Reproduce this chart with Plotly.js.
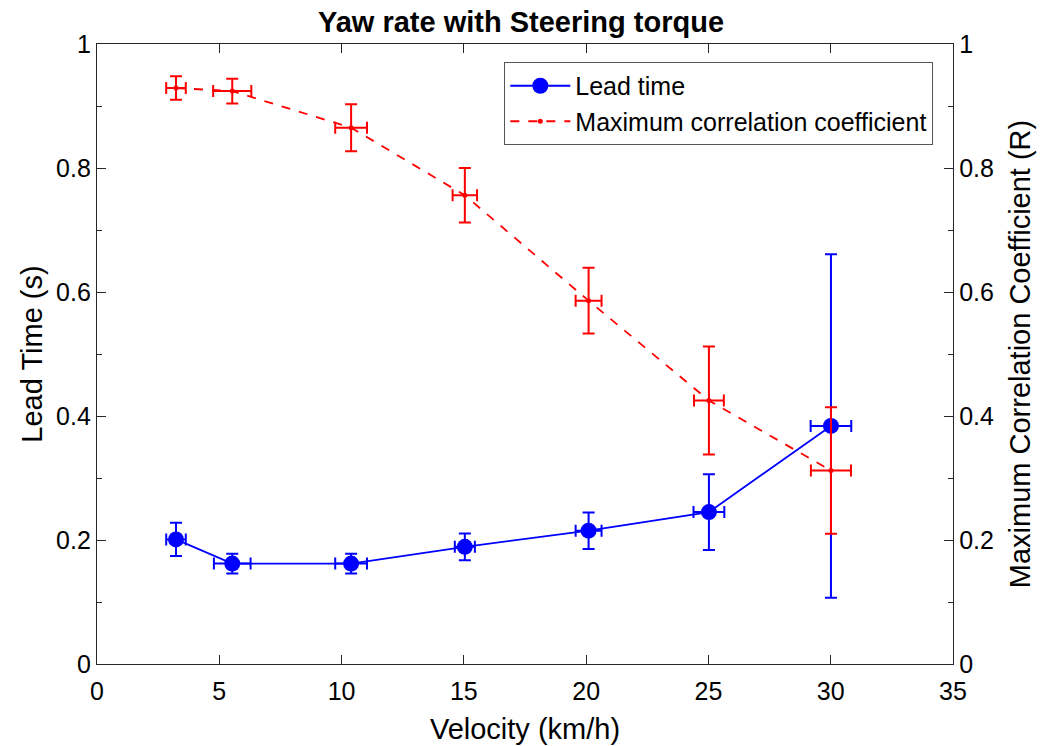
<!DOCTYPE html>
<html>
<head>
<meta charset="utf-8">
<script src="https://cdn.plot.ly/plotly-3.0.1.min.js"></script>
<style>
  html, body { margin: 0; padding: 0; background: #fff; }
  #chart { width: 1042px; height: 746px; }
</style>
</head>
<body>
<div id="chart"></div>
<script>
// Lead time of yaw rate vs steering torque, per velocity bin
const leadVelocity   = [3.23, 5.53, 10.39, 15.04, 20.10, 25.02, 30.01];
const leadVelErr     = [0.40, 0.75, 0.65, 0.41, 0.53, 0.63, 0.83];
const leadTime       = [0.201, 0.162, 0.162, 0.189, 0.215, 0.245, 0.384];
const leadTimeErr    = [0.027, 0.016, 0.016, 0.0215, 0.0295, 0.061, 0.277];

// Maximum correlation coefficient per velocity bin
const corrVelocity   = [3.23, 5.53, 10.39, 15.04, 20.10, 25.02, 30.01];
const corrVelErr     = [0.40, 0.78, 0.65, 0.50, 0.53, 0.61, 0.82];
const corrCoef       = [0.929, 0.924, 0.865, 0.756, 0.586, 0.425, 0.312];
const corrCoefErr    = [0.019, 0.020, 0.038, 0.044, 0.053, 0.087, 0.102];

const FONT = 'Liberation Sans, Arial, sans-serif';
const AXIS_COLOR = '#262626';
const TICK_SIZE = 25;
const LABEL_SIZE = 29;

const leadTrace = {
  name: 'Lead time',
  x: leadVelocity,
  y: leadTime,
  type: 'scatter',
  mode: 'lines+markers',
  line: { color: '#0000ff', width: 1.8 },
  marker: { color: '#0000ff', size: 16, symbol: 'circle' },
  error_y: { type: 'data', array: leadTimeErr, visible: true, color: '#0000ff', thickness: 2, width: 6 },
  error_x: { type: 'data', array: leadVelErr, visible: true, color: '#0000ff', thickness: 2, width: 6 },
  yaxis: 'y'
};

const corrTrace = {
  name: 'Maximum correlation coefficient',
  x: corrVelocity,
  y: corrCoef,
  type: 'scatter',
  mode: 'lines+markers',
  line: { color: '#ff0000', width: 1.8, dash: 'dash' },
  marker: { color: '#ff0000', size: 5, symbol: 'circle' },
  error_y: { type: 'data', array: corrCoefErr, visible: true, color: '#ff0000', thickness: 2, width: 6 },
  error_x: { type: 'data', array: corrVelErr, visible: true, color: '#ff0000', thickness: 2, width: 6 },
  yaxis: 'y2'
};

const yTicks = {
  range: [0, 1],
  tick0: 0, dtick: 0.2,
  ticks: 'inside', ticklen: 9, tickwidth: 1, tickcolor: AXIS_COLOR,
  minor: { ticks: 'inside', dtick: 0.1, ticklen: 5, tickcolor: AXIS_COLOR },
  showline: true, linecolor: AXIS_COLOR, linewidth: 1.2,
  showgrid: false, zeroline: false,
  tickfont: { family: FONT, size: TICK_SIZE, color: '#000' }
};

const layout = {
  width: 1042,
  height: 746,
  margin: { l: 97, r: 89, t: 44, b: 82, pad: 0 },
  paper_bgcolor: '#ffffff',
  plot_bgcolor: '#ffffff',
  font: { family: FONT, size: TICK_SIZE, color: '#000' },
  showlegend: true,
  title: {
    text: '<b>Yaw rate with Steering torque</b>',
    font: { family: FONT, size: LABEL_SIZE, color: '#000' },
    x: 0.5, xanchor: 'center',
    y: 0.971, yanchor: 'middle'
  },
  xaxis: {
    range: [0, 35],
    tick0: 0, dtick: 5,
    ticks: 'inside', ticklen: 9, tickwidth: 1, tickcolor: AXIS_COLOR,
    showline: true, linecolor: AXIS_COLOR, linewidth: 1.2,
    mirror: 'ticks',
    showgrid: false, zeroline: false,
    ticklabelstandoff: 5,
    tickfont: { family: FONT, size: TICK_SIZE, color: '#000' },
    title: { text: 'Velocity (km/h)', font: { family: FONT, size: LABEL_SIZE, color: '#000' }, standoff: 14 }
  },
  yaxis: Object.assign({}, yTicks, {
    title: { text: 'Lead Time (s)', font: { family: FONT, size: LABEL_SIZE, color: '#000' }, standoff: 4 }
  }),
  yaxis2: Object.assign({}, yTicks, {
    overlaying: 'y',
    side: 'right',
    title: { text: 'Maximum Correlation Coefficient (R)', font: { family: FONT, size: LABEL_SIZE, color: '#000' }, standoff: 16 }
  }),
  legend: {
    x: 0.977, xanchor: 'right',
    y: 0.971, yanchor: 'top',
    bgcolor: '#ffffff',
    bordercolor: '#555555',
    borderwidth: 1,
    font: { family: FONT, size: 25, color: '#000' },
    tracegroupgap: 0,
    itemwidth: 60
  }
};

Plotly.newPlot('chart', [leadTrace, corrTrace], layout, { displayModeBar: false, staticPlot: true });
</script>
</body>
</html>
